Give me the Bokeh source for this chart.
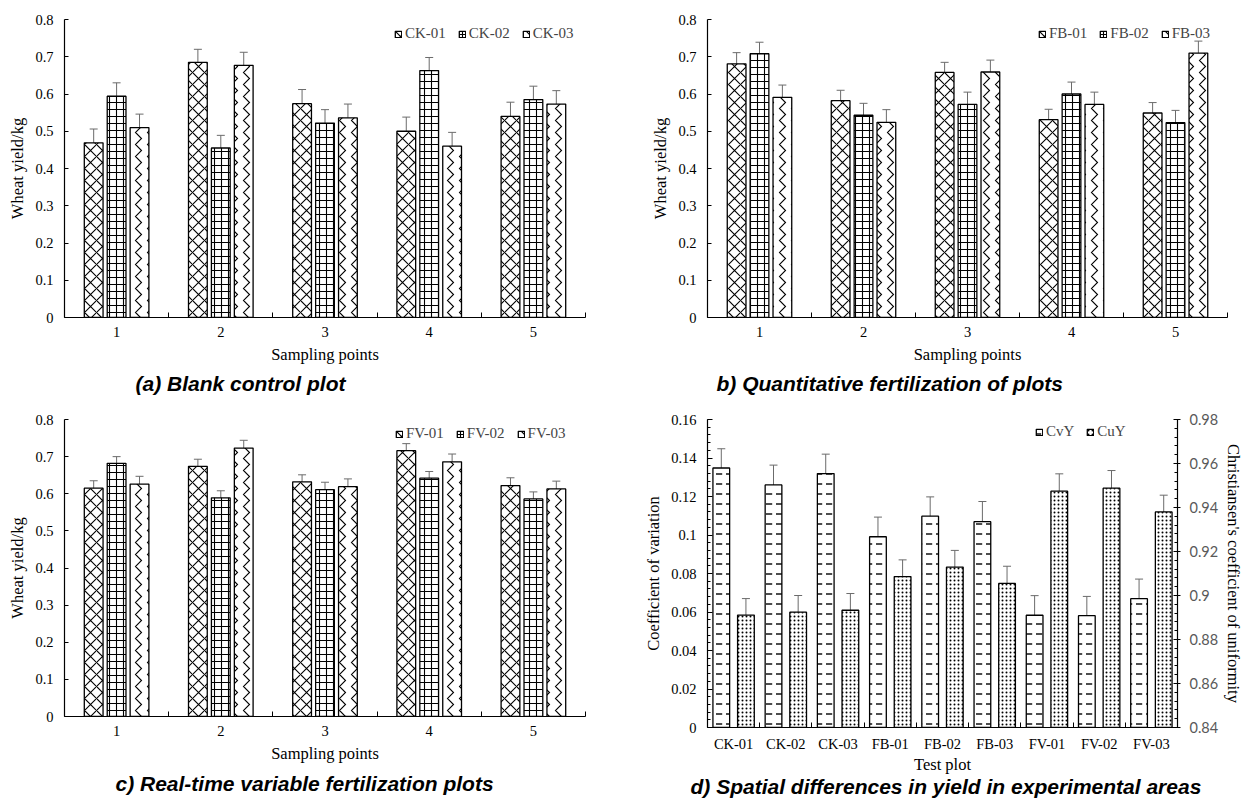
from bokeh.plotting import figure
from bokeh.models import (ColumnDataSource, Whisker, TeeHead, FixedTicker, Legend, LegendItem,
                          Title, LinearAxis, Range1d, NumeralTickFormatter)
from bokeh.layouts import column, row
from bokeh.embed import file_html
from bokeh.resources import INLINE

# ---------------- data ----------------
points = [1, 2, 3, 4, 5]
y_ticks = [0, 0.1, 0.2, 0.3, 0.4, 0.5, 0.6, 0.7, 0.8]

ck_names = ["CK-01", "CK-02", "CK-03"]
ck01 = [0.469, 0.685, 0.574, 0.500, 0.540]
ck02 = [0.594, 0.455, 0.522, 0.663, 0.585]
ck03 = [0.510, 0.677, 0.536, 0.460, 0.573]
ck01_err = [0.037, 0.035, 0.038, 0.038, 0.038]
ck02_err = [0.036, 0.034, 0.036, 0.035, 0.036]
ck03_err = [0.036, 0.035, 0.037, 0.037, 0.036]

fb_names = ["FB-01", "FB-02", "FB-03"]
fb01 = [0.681, 0.582, 0.658, 0.531, 0.549]
fb02 = [0.708, 0.543, 0.572, 0.600, 0.523]
fb03 = [0.591, 0.524, 0.659, 0.572, 0.710]
fb01_err = [0.030, 0.028, 0.027, 0.028, 0.028]
fb02_err = [0.031, 0.032, 0.033, 0.032, 0.033]
fb03_err = [0.033, 0.034, 0.032, 0.033, 0.032]

fv_names = ["FV-01", "FV-02", "FV-03"]
fv01 = [0.615, 0.674, 0.632, 0.716, 0.622]
fv02 = [0.682, 0.589, 0.611, 0.642, 0.586]
fv03 = [0.626, 0.723, 0.619, 0.686, 0.613]
fv01_err = [0.020, 0.019, 0.019, 0.019, 0.021]
fv02_err = [0.018, 0.019, 0.020, 0.018, 0.019]
fv03_err = [0.021, 0.021, 0.021, 0.021, 0.021]

plots = ["CK-01", "CK-02", "CK-03", "FB-01", "FB-02", "FB-03", "FV-01", "FV-02", "FV-03"]
cvy = [0.1348, 0.1260, 0.1319, 0.0991, 0.1098, 0.1069, 0.0583, 0.0581, 0.0669]
cvy_err = [0.0100, 0.0103, 0.0101, 0.0102, 0.0100, 0.0105, 0.0102, 0.0100, 0.0102]
cuy = [0.8911, 0.8924, 0.8933, 0.9086, 0.9129, 0.9055, 0.9474, 0.9488, 0.9380]
cuy_err = [0.0075, 0.0076, 0.0076, 0.0076, 0.0076, 0.0078, 0.0079, 0.0080, 0.0076]
cv_ticks = [0, 0.02, 0.04, 0.06, 0.08, 0.1, 0.12, 0.14, 0.16]
cu_ticks = [0.84, 0.86, 0.88, 0.9, 0.92, 0.94, 0.96, 0.98]

SERIF = "Liberation Serif"
SANS = "Liberation Sans"
ERR = "#6b6b6b"
HATCHES = [("diagonal_cross", 12), ("cross", 7), ("vertical_wave", 12)]


def style_axis(ax, size="14.5px"):
    ax.axis_line_color = "black"
    ax.axis_line_width = 1.2
    ax.major_label_text_font = SERIF
    ax.major_label_text_font_size = size
    ax.major_label_text_color = "black"
    ax.axis_label_text_font = SERIF
    ax.axis_label_text_font_size = "16.5px"
    ax.axis_label_text_font_style = "normal"
    ax.axis_label_text_color = "black"
    ax.major_tick_line_color = "black"
    ax.minor_tick_line_color = "black"


def add_caption(p, text, offset, standoff):
    p.add_layout(Title(text=text, align="left", offset=offset, text_font=SANS,
                       text_font_style="bold italic", text_font_size="21px",
                       text_color="black", standoff=standoff), "below")


def group_panel(names, series, errs, caption, cap_off, cap_standoff, width, height, borders, legend_xy):
    bl, br, bt, bb = borders
    p = figure(width=width, height=height, output_backend="svg", toolbar_location=None,
               x_range=Range1d(points[0] - 0.5, points[-1] + 0.5),
               y_range=Range1d(y_ticks[0], y_ticks[-1]), frame_align=False,
               min_border_left=bl, min_border_right=br, min_border_top=bt, min_border_bottom=bb)
    p.outline_line_color = None
    p.grid.visible = False
    p.background_fill_color = "white"

    offsets = [-0.22, 0.0, 0.22]
    items = []
    for k, (name, vals, err) in enumerate(zip(names, series, errs)):
        xs = [pt + offsets[k] for pt in points]
        src = ColumnDataSource(dict(x=xs, top=vals,
                                    upper=[v + e for v, e in zip(vals, err)],
                                    lower=[v - e for v, e in zip(vals, err)]))
        pat, sc = HATCHES[k]
        r = p.vbar(x="x", top="top", bottom=0, width=0.18, source=src,
                   fill_color="white", line_color="black", line_width=1.3,
                   hatch_pattern=pat, hatch_scale=sc, hatch_color="black", hatch_weight=1.1)
        p.add_layout(Whisker(source=src, base="x", upper="upper", lower="lower",
                             line_color=ERR, line_width=1,
                             upper_head=TeeHead(size=8, line_color=ERR, line_width=1),
                             lower_head=TeeHead(size=8, line_color=ERR, line_width=1)))
        items.append(LegendItem(label=name, renderers=[r]))

    leg = Legend(items=items, orientation="horizontal", location=legend_xy,
                 glyph_width=8, glyph_height=8, label_standoff=3, spacing=12,
                 padding=0, margin=0, border_line_color=None, background_fill_alpha=0,
                 label_text_font=SERIF, label_text_font_size="15px", label_height=15)
    p.add_layout(leg)

    xa = p.xaxis[0]
    xa.ticker = FixedTicker(ticks=points,
                            minor_ticks=[pt - 0.5 for pt in points] + [points[-1] + 0.5])
    style_axis(xa)
    xa.major_tick_in = 0
    xa.major_tick_out = 0
    xa.minor_tick_in = 5
    xa.minor_tick_out = 0
    xa.major_label_standoff = 9
    xa.axis_label = "Sampling points"
    xa.axis_label_standoff = 5

    ya = p.yaxis[0]
    ya.ticker = FixedTicker(ticks=y_ticks)
    ya.formatter = NumeralTickFormatter(format="0.[00]")
    style_axis(ya)
    ya.major_tick_in = 4
    ya.major_tick_out = 0
    ya.minor_tick_in = 0
    ya.minor_tick_out = 0
    ya.major_label_standoff = 11
    ya.axis_label = "Wheat yield/kg"
    ya.axis_label_standoff = 5

    add_caption(p, caption, cap_off, cap_standoff)
    return p


pa = group_panel(ck_names, [ck01, ck02, ck03], [ck01_err, ck02_err, ck03_err],
                 "(a) Blank control plot", 71, 6, 620, 398, (64, 35, 19, 81), (330, 275))
pb = group_panel(fb_names, [fb01, fb02, fb03], [fb01_err, fb02_err, fb03_err],
                 "b) Quantitative fertilization of plots", 9, 6, 626, 398, (87, 19, 19, 81), (331, 275))
pc = group_panel(fv_names, [fv01, fv02, fv03], [fv01_err, fv02_err, fv03_err],
                 "c) Real-time variable fertilization plots", 51, 9, 616, 403, (64, 31, 21, 85), (331, 274))

# ---------------- panel d ----------------
idx = list(range(1, len(plots) + 1))
pd_ = figure(width=630, height=403, output_backend="svg", toolbar_location=None,
             x_range=Range1d(idx[0] - 0.5, idx[-1] + 0.5),
             y_range=Range1d(cv_ticks[0], cv_ticks[-1]), frame_align=False,
             min_border_left=91, min_border_right=63, min_border_top=21, min_border_bottom=74)
pd_.outline_line_color = None
pd_.grid.visible = False
pd_.extra_y_ranges = {"cu": Range1d(cu_ticks[0], cu_ticks[-1])}

src_cv = ColumnDataSource(dict(x=[i - 0.236 for i in idx], top=cvy,
                               upper=[v + e for v, e in zip(cvy, cvy_err)],
                               lower=[v - e for v, e in zip(cvy, cvy_err)]))
src_cu = ColumnDataSource(dict(x=[i + 0.236 for i in idx], top=cuy,
                               upper=[v + e for v, e in zip(cuy, cuy_err)],
                               lower=[v - e for v, e in zip(cuy, cuy_err)]))
r_cv = pd_.vbar(x="x", top="top", bottom=cv_ticks[0], width=0.32, source=src_cv,
                fill_color="white", line_color="black", line_width=1.3,
                hatch_pattern="horizontal_dash", hatch_scale=10, hatch_color="black", hatch_weight=1.4)
r_cu = pd_.vbar(x="x", top="top", bottom=cu_ticks[0], width=0.32, source=src_cu, y_range_name="cu",
                fill_color="white", line_color="black", line_width=1.3,
                hatch_pattern="dot", hatch_scale=4, hatch_color="black", hatch_weight=3.8)
pd_.add_layout(Whisker(source=src_cv, base="x", upper="upper", lower="lower",
                       line_color=ERR, line_width=1,
                       upper_head=TeeHead(size=8, line_color=ERR, line_width=1),
                       lower_head=TeeHead(size=8, line_color=ERR, line_width=1)))
pd_.add_layout(Whisker(source=src_cu, base="x", upper="upper", lower="lower", y_range_name="cu",
                       line_color=ERR, line_width=1,
                       upper_head=TeeHead(size=8, line_color=ERR, line_width=1),
                       lower_head=TeeHead(size=8, line_color=ERR, line_width=1)))

leg_d = Legend(items=[LegendItem(label="CvY", renderers=[r_cv]), LegendItem(label="CuY", renderers=[r_cu])],
               orientation="horizontal", location=(328, 287),
               glyph_width=8, glyph_height=8, label_standoff=3, spacing=12,
               padding=0, margin=0, border_line_color=None, background_fill_alpha=0,
               label_text_font=SERIF, label_text_font_size="15px", label_height=15)
pd_.add_layout(leg_d)

xa = pd_.xaxis[0]
xa.ticker = FixedTicker(ticks=idx, minor_ticks=[i - 0.5 for i in idx] + [idx[-1] + 0.5])
xa.major_label_overrides = {i: n for i, n in zip(idx, plots)}
style_axis(xa)
xa.major_tick_in = 0
xa.major_tick_out = 0
xa.minor_tick_in = 5
xa.minor_tick_out = 0
xa.major_label_standoff = 8
xa.axis_label = "Test plot"
xa.axis_label_standoff = 0

ya = pd_.yaxis[0]
ya.ticker = FixedTicker(ticks=cv_ticks,
                        minor_ticks=[round(cv_ticks[0] + 0.004 * k, 3) for k in range(41)])
ya.formatter = NumeralTickFormatter(format="0.[00]")
style_axis(ya)
ya.major_tick_in = 5
ya.major_tick_out = 0
ya.minor_tick_in = 3
ya.minor_tick_out = 0
ya.major_label_standoff = 11
ya.axis_label = "Coefficient of variation"
ya.axis_label_standoff = 5

ra = LinearAxis(y_range_name="cu", ticker=FixedTicker(ticks=cu_ticks,
                minor_ticks=[round(cu_ticks[0] + 0.004 * k, 3) for k in range(36)]))
ra.formatter = NumeralTickFormatter(format="0.[00]")
style_axis(ra)
ra.major_label_text_font = "Lato"
ra.major_label_text_color = "#595959"
ra.major_label_text_font_size = "14.5px"
ra.major_tick_in = 4
ra.major_tick_out = 3
ra.minor_tick_in = 3
ra.minor_tick_out = 0
ra.major_label_standoff = 9
ra.axis_label = "Christiansen's coefficient of uniformity"
ra.axis_label_standoff = 3
pd_.add_layout(ra, "right")

add_caption(pd_, "d) Spatial differences in yield in experimental areas", -17, -7)

layout = column(row(pa, pb), row(pc, pd_))
open("out.html", "w").write(file_html(layout, INLINE))
